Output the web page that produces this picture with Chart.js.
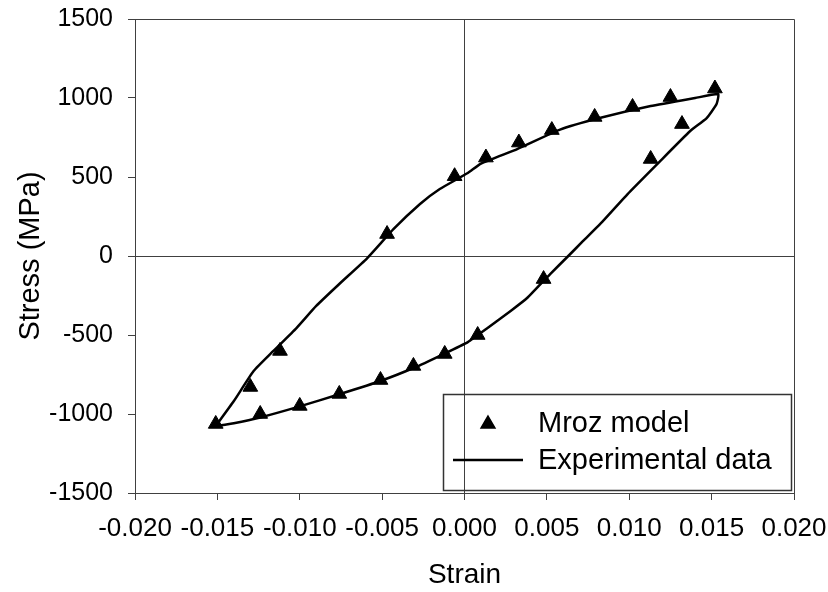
<!DOCTYPE html>
<html>
<head>
<meta charset="utf-8">
<script src="https://cdn.jsdelivr.net/npm/chart.js@4"></script>
<style>
html,body{margin:0;padding:0;background:#fff;}
#wrap{width:828px;height:592px;position:relative;}
</style>
</head>
<body>
<div id="wrap"><canvas id="c" width="828" height="592"></canvas></div>
<script>
// Mroz model (triangles)
const mrozStrain = [0.0152, 0.0125, 0.0102, 0.0079, 0.0053, 0.0033, 0.0013, -0.0006, -0.0047,
                    0.0132, 0.0113, 0.0048,
                    0.0008, -0.0012, -0.0031, -0.0051, -0.0076, -0.0100, -0.0124, -0.0151,
                    -0.0130, -0.0112];
const mrozStress = [1060, 1006, 943, 880, 797, 718, 623, 505, 139,
                    835, 614, -146,
                    -500, -620, -696, -785, -873, -949, -1000, -1063,
                    -829, -601];
// Experimental data (line, ordered around the loop)
const expStrain = [-0.0151, -0.0140, -0.0128, -0.0116, -0.0102, -0.0090, -0.0076, -0.0059, -0.0043, -0.0027,
                   -0.0015, 0.0002, 0.0010, 0.0032, 0.0058, 0.0082, 0.0113, 0.0140, 0.0154, 0.0153,
                   0.0147, 0.0137, 0.0117, 0.0099, 0.0084, 0.0072, 0.0063, 0.0052, 0.0038, 0.0028,
                   0.0014, 0.0002, -0.0013, -0.0031, -0.0051, -0.0076, -0.0100, -0.0124, -0.0140, -0.0151];
const expStress = [-1076, -918, -728, -601, -456, -316, -177, -13, 171, 329,
                   424, 525, 585, 677, 800, 873, 949, 1000, 1025, 962,
                   873, 791, 582, 392, 221, 95, 0, -114, -266, -348,
                   -456, -545, -622, -709, -791, -875, -952, -1022, -1058, -1076];
const xTicks = [-0.020, -0.015, -0.010, -0.005, 0.000, 0.005, 0.010, 0.015, 0.020];
const yTicks = [-1500, -1000, -500, 0, 500, 1000, 1500];
const legendLabels = ['Mroz model', 'Experimental data'];

const AX = '#404040';
const FONT = "'Liberation Sans', Arial, sans-serif";

const mrozData = mrozStrain.map((x, i) => ({x: x, y: mrozStress[i]}));
const expData = expStrain.map((x, i) => ({x: x, y: expStress[i]}));

const framePlugin = {
  id: 'frame',
  afterDraw(chart) {
    const ctx = chart.ctx, a = chart.chartArea;
    ctx.save();
    ctx.strokeStyle = AX;
    ctx.lineWidth = 1;
    ctx.beginPath();
    ctx.moveTo(a.left, a.top + 0.5);
    ctx.lineTo(a.right + 0.5, a.top + 0.5);
    ctx.lineTo(a.right + 0.5, a.bottom);
    ctx.stroke();
    // legend
    const lx = 443, ly = 394, lw = 348, lh = 96;
    ctx.lineWidth = 1.5;
    ctx.strokeStyle = '#333';
    ctx.strokeRect(lx + 0.5, ly + 0.5, lw, lh);
    ctx.fillStyle = '#000';
    ctx.strokeStyle = '#000';
    Chart.helpers.drawPoint(ctx, {pointStyle: 'triangle', radius: 8, rotation: 0, borderWidth: 1}, 488, 424);
    ctx.fill();
    ctx.lineWidth = 2.5;
    ctx.beginPath();
    ctx.moveTo(453, 460);
    ctx.lineTo(523, 460);
    ctx.stroke();
    ctx.font = "29px " + FONT;
    ctx.textBaseline = 'middle';
    ctx.textAlign = 'left';
    ctx.fillStyle = '#000';
    ctx.fillText(legendLabels[0], 538, 424);
    ctx.fillText(legendLabels[1], 538, 461);
    ctx.restore();
  }
};

new Chart(document.getElementById('c'), {
  type: 'scatter',
  data: {
    datasets: [
      {
        label: legendLabels[0],
        data: mrozData,
        order: 0,
        pointStyle: 'triangle',
        pointRadius: 8.5,
        pointBackgroundColor: '#000',
        pointBorderColor: '#000',
        pointBorderWidth: 1,
        showLine: false
      },
      {
        label: legendLabels[1],
        data: expData,
        order: 1,
        showLine: true,
        borderColor: '#000',
        borderWidth: 2.5,
        pointRadius: 0,
        tension: 0.15,
        fill: false
      }
    ]
  },
  options: {
    responsive: false,
    animation: false,
    devicePixelRatio: 1,
    layout: {padding: {top: 19, right: 34, left: 0, bottom: 0}},
    plugins: {legend: {display: false}, tooltip: {enabled: false}},
    scales: {
      x: {
        type: 'linear',
        min: -0.02, max: 0.02,
        afterBuildTicks(s) { s.ticks = xTicks.map(v => ({value: v})); },
        afterFit(s) { s.height = 99; s.paddingLeft = 0; s.paddingRight = 0; },
        border: {display: true, color: AX, width: 1},
        grid: {
          drawOnChartArea: true,
          color: c => (c.tick && Math.abs(c.tick.value) < 1e-9) ? AX : 'rgba(0,0,0,0)',
          tickColor: AX,
          tickLength: 7,
          lineWidth: 1
        },
        ticks: {
          autoSkip: false, maxRotation: 0, minRotation: 0,
          padding: 13,
          color: '#000',
          font: {family: FONT, size: 26},
          callback: v => v.toFixed(3)
        },
        title: {
          display: true, text: 'Strain', color: '#000',
          font: {family: FONT, size: 28},
          padding: {top: 0, bottom: 0}
        }
      },
      y: {
        type: 'linear',
        min: -1500, max: 1500,
        afterBuildTicks(s) { s.ticks = yTicks.map(v => ({value: v})); },
        afterFit(s) { s.width = 135; s.paddingTop = 0; s.paddingBottom = 0; },
        border: {display: true, color: AX, width: 1},
        grid: {
          drawOnChartArea: true,
          color: c => (c.tick && c.tick.value === 0) ? AX : 'rgba(0,0,0,0)',
          tickColor: AX,
          tickLength: 7,
          lineWidth: 1
        },
        ticks: {
          padding: 15,
          color: '#000',
          font: {family: FONT, size: 25},
          callback: v => String(v)
        },
        title: {
          display: true, text: 'Stress (MPa)', color: '#000',
          font: {family: FONT, size: 29},
          padding: {top: 14, bottom: 0}
        }
      }
    }
  },
  plugins: [framePlugin]
});
</script>
</body>
</html>
